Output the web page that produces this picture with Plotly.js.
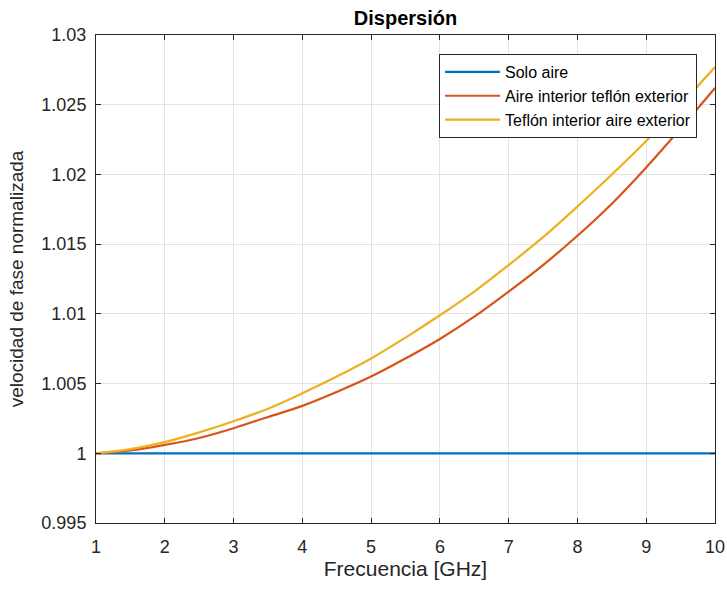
<!DOCTYPE html>
<html>
<head>
<meta charset="utf-8">
<script src="https://cdn.plot.ly/plotly-3.0.1.min.js"></script>
<style>html,body{margin:0;padding:0;background:#fff;}#chart{width:727px;height:590px;}</style>
</head>
<body>
<div id="chart"></div>
<script>
const freq = [1, 1.5, 2, 2.5, 3, 3.5, 4, 4.5, 5, 5.5, 6, 6.5, 7, 7.5, 8, 8.5, 9, 9.5, 10];
const soloAire = [1, 1, 1, 1, 1, 1, 1, 1, 1, 1, 1, 1, 1, 1, 1, 1, 1, 1, 1];
const aireTeflon = [1.0000, 1.0002, 1.0006, 1.0011, 1.0018, 1.0026, 1.0034, 1.0044, 1.0055, 1.0068, 1.0082, 1.0098, 1.0116, 1.0135, 1.0156, 1.0179, 1.0205, 1.0233, 1.0262];
const teflonAire = [1.0000, 1.0003, 1.0008, 1.0015, 1.0023, 1.0032, 1.0043, 1.0055, 1.0068, 1.0083, 1.0099, 1.0116, 1.0135, 1.0155, 1.0177, 1.0200, 1.0224, 1.0250, 1.0277];
const seriesNames = ["Solo aire", "Aire interior teflón exterior", "Teflón interior aire exterior"];
const xTicks = [1, 2, 3, 4, 5, 6, 7, 8, 9, 10];
const yTicks = [0.995, 1, 1.005, 1.01, 1.015, 1.02, 1.025, 1.03];
const yTickText = ["0.995", "1", "1.005", "1.01", "1.015", "1.02", "1.025", "1.03"];

const colors = ["#0072BD", "#D95319", "#EDB120"];
const ys = [soloAire, aireTeflon, teflonAire];
const traces = ys.map((y, i) => ({
  x: freq, y: y, type: "scatter", mode: "lines", name: seriesNames[i],
  line: {color: colors[i], width: 2.2, shape: "spline"}
}));

const FONT = "Liberation Sans, Arial, Helvetica, sans-serif";
const axisCommon = {
  showline: true, linecolor: "#262626", linewidth: 1, mirror: "ticks",
  ticks: "inside", ticklen: 5, tickcolor: "#262626", tickwidth: 1,
  showgrid: true, gridcolor: "#e3e3e3", gridwidth: 1, zeroline: false,
  tickfont: {family: FONT, size: 18, color: "#262626"}
};

const layout = {
  width: 727, height: 590,
  margin: {l: 96, r: 12, t: 35, b: 67},
  paper_bgcolor: "#ffffff", plot_bgcolor: "#ffffff",
  font: {family: FONT, color: "#262626"},
  title: {text: "<b>Dispersión</b>", font: {family: FONT, size: 20, color: "#000000"}, xref: "paper", x: 0.5, xanchor: "center", y: 0.97, yanchor: "middle"},
  xaxis: Object.assign({}, axisCommon, {
    range: [1, 10], tickvals: xTicks, ticktext: xTicks.map(String), ticklabelstandoff: 7,
    title: {text: "Frecuencia [GHz]", font: {family: FONT, size: 21, color: "#262626"}, standoff: 4}
  }),
  yaxis: Object.assign({}, axisCommon, {
    range: [0.995, 1.03], tickvals: yTicks, ticktext: yTickText, ticklabelstandoff: 5,
    title: {text: "velocidad de fase normalizada", font: {family: FONT, size: 19, color: "#262626"}, standoff: 12}
  }),
  legend: {
    x: 0.971, xanchor: "right", y: 0.961, yanchor: "top",
    bgcolor: "#ffffff", bordercolor: "#262626", borderwidth: 1,
    font: {family: FONT, size: 16, color: "#000000"}, tracegroupgap: 0, itemwidth: 55
  },
  showlegend: true
};

Plotly.newPlot("chart", traces, layout, {displayModeBar: false, staticPlot: true});
</script>
</body>
</html>
